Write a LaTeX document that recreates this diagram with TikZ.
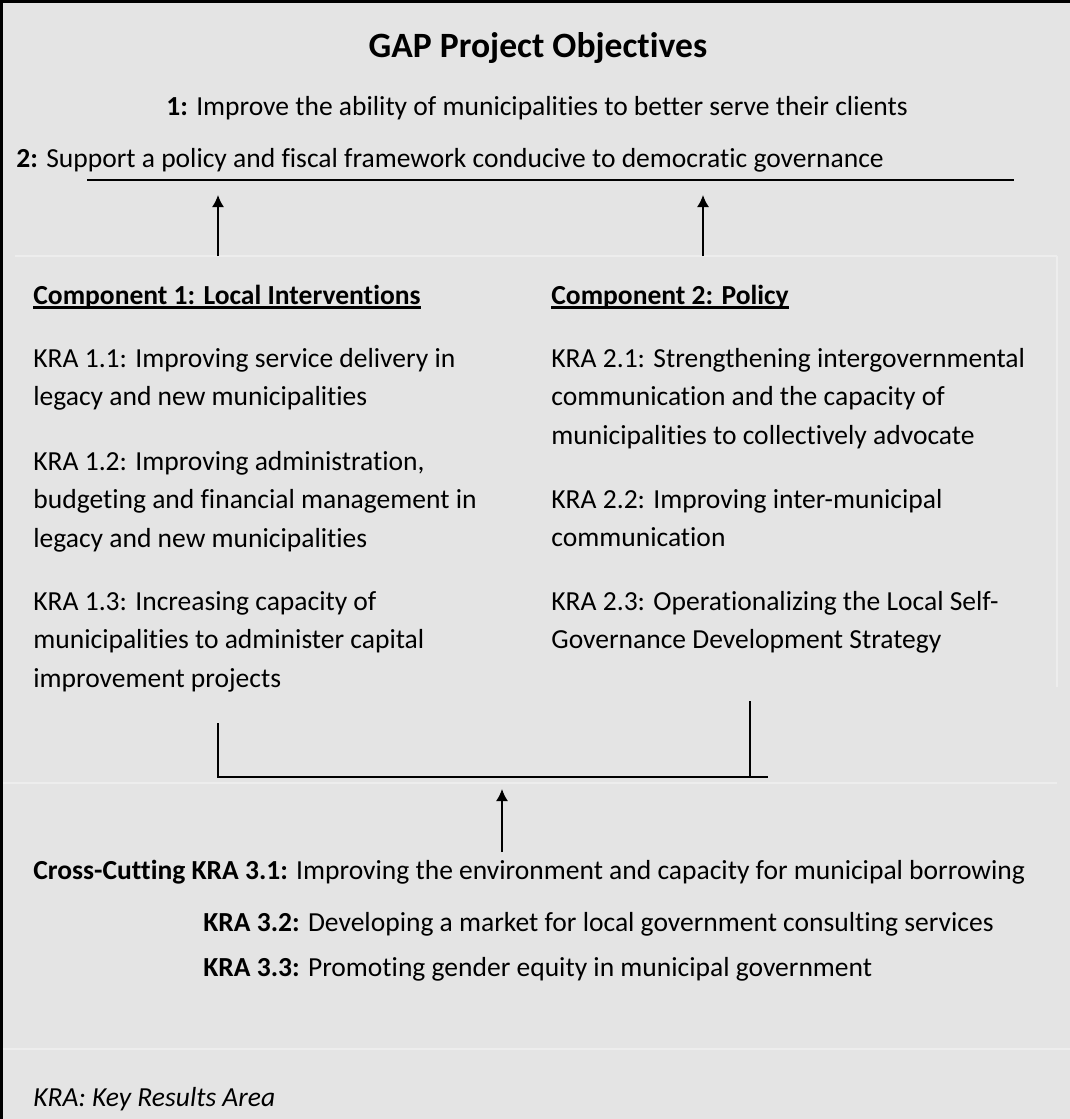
\documentclass[tikz,border=0pt]{standalone}
\usepackage{fontspec}
\setmainfont{Carlito}[Ligatures=NoCommon]
\usetikzlibrary{arrows.meta}
\definecolor{panelgray}{HTML}{E4E4E4}
\definecolor{cellline}{HTML}{EDEDED}
\newcommand{\lines}[1]{\begin{tabular}[t]{@{}l@{}}#1\end{tabular}}
\tikzset{
  txt/.style={anchor=base west, inner sep=0pt,
    font=\fontsize{13.77}{19.25}\selectfont},
  ttl/.style={anchor=base, inner sep=0pt, font=\fontsize{17.8}{21}\selectfont\bfseries},
  cell/.style={draw=cellline, line width=0.6pt},
  uline/.style={line width=1.2pt}
}

\begin{document}
\begin{tikzpicture}[>={Latex[length=6pt,width=6pt]}, x=0.5pt, y=-0.5pt]
\useasboundingbox (0,0) rectangle (1070,1119);
\fill[panelgray] (0,0) rectangle (1070,1119);
% Table cells
\draw[cell] (15,256) -- (1057,256);
\draw[cell] (1057,256) -- (1057,687);
\draw[cell] (0,783) -- (1057,783);
\draw[cell] (0,1049) -- (1070,1049);
\draw[line width=1.5pt] (1.5,1119) -- (1.5,1.5) -- (1070,1.5);

% Objectives
\node[ttl] (title) at (538,57) {GAP Project Objectives};
\node[txt] (obj1) at (166,115) {\textbf{1:} Improve the ability of municipalities to better serve their clients};
\node[txt] (obj2) at (16,167) {\textbf{2:} Support a policy and fiscal framework conducive to democratic governance};
\coordinate (rulel) at (87,180);
\coordinate (ruler) at (1014,180);
\draw[line width=1pt] (rulel) -- (ruler);

% Components
\node[txt] (comp1) at (33,304) {\textbf{Component 1: Local Interventions}};
\node[txt] (comp2) at (551,304) {\textbf{Component 2: Policy}};
\draw[uline] ([yshift=-1.8pt]comp1.base west) -- ([yshift=-1.8pt]comp1.base east);
\draw[uline] ([yshift=-1.8pt]comp2.base west) -- ([yshift=-1.8pt]comp2.base east);
\node[txt] (kra11) at (33,367) {\lines{KRA 1.1: Improving service delivery in\\legacy and new municipalities}};
\node[txt] (kra12) at (33,470) {\lines{KRA 1.2: Improving administration,\\budgeting and financial management in\\legacy and new municipalities}};
\node[txt] (kra13) at (33,610) {\lines{KRA 1.3: Increasing capacity of\\municipalities to administer capital\\improvement projects}};
\node[txt] (kra21) at (551,367) {\lines{KRA 2.1: Strengthening intergovernmental\\communication and the capacity of\\municipalities to collectively advocate}};
\node[txt] (kra22) at (551,508) {\lines{KRA 2.2: Improving inter-municipal\\communication}};
\node[txt] (kra23) at (551,610) {\lines{KRA 2.3: Operationalizing the Local Self-\\Governance Development Strategy}};

% Arrows to objectives
\coordinate (up1) at (218,256);
\coordinate (up2) at (703,256);
\draw[->, line width=0.8pt] (up1) -- (up1 |- 0,195);
\draw[->, line width=0.8pt] (up2) -- (up2 |- 0,195);

% Bracket
\coordinate (brl) at (218,723);
\coordinate (brr) at (750,701);
\coordinate (brend) at (768,777);
\draw[line width=0.8pt] (brl) |- (brend);
\draw[line width=0.8pt] (brr) -- (brr |- brend);
\coordinate (up3) at (502,852);
\draw[->, line width=0.8pt] (up3) -- (up3 |- 0,789);

% Cross-cutting
\node[txt] (kra31) at (33,879) {\textbf{Cross-Cutting KRA 3.1:} Improving the environment and capacity for municipal borrowing};
\node[txt] (kra32) at (203,931) {\textbf{KRA 3.2:} Developing a market for local government consulting services};
\node[txt] (kra33) at (203,976) {\textbf{KRA 3.3:} Promoting gender equity in municipal government};
\node[txt] (legend) at (33,1106) {\textit{KRA: Key Results Area}};
\end{tikzpicture}
\end{document}
